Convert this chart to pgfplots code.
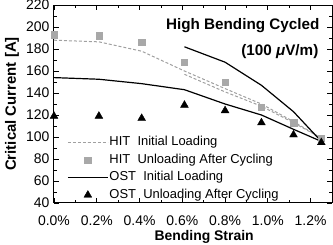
\documentclass[border=0pt]{standalone}
\usepackage{pgfplots}
\pgfplotsset{compat=1.18}
\usepackage{fontspec}
\setmainfont{Liberation Sans}
\definecolor{hitgray}{RGB}{160,160,160}
\definecolor{sqgray}{RGB}{168,168,168}
\begin{document}
\begin{tikzpicture}
\useasboundingbox (0,0) rectangle (333bp,245bp);
\begin{axis}[
  at={(54bp,42bp)}, anchor=south west,
  width=278bp, height=198bp, scale only axis,
  xmin=0, xmax=1.3, ymin=40, ymax=220,
  axis line style={line width=1bp},
  tick align=inside,
  major tick length=5bp, minor tick length=3bp,
  every tick/.style={black, line width=0.8bp},
  xtick={0,0.2,0.4,0.6,0.8,1.0,1.2},
  xticklabels={0.0\%,0.2\%,0.4\%,0.6\%,0.8\%,1.0\%,1.2\%},
  minor xtick={0.1,0.3,0.5,0.7,0.9,1.1},
  ytick={40,60,80,100,120,140,160,180,200,220},
  minor ytick={50,70,90,110,130,150,170,190,210},
  /pgf/number format/assume math mode=true,
  ticklabel style={font=\fontsize{14}{16}\selectfont},
  xticklabel style={inner sep=0.5bp, yshift=-12.5bp, text depth=0.5bp},
  yticklabel style={xshift=-1bp},
  xlabel={Bending Strain},
  ylabel={Critical Current [A]},
  xlabel style={font=\bfseries\fontsize{14}{16}\selectfont, inner sep=0pt, at={(axis description cs:0.54,-0.173)}, anchor=center},
  ylabel style={font=\bfseries\fontsize{15}{17}\selectfont, at={(axis description cs:-0.151,0.5)}, anchor=center, rotate=0},
  legend style={draw=none, fill=none, at={(rel axis cs:0.047,0.343)}, anchor=north west,
    inner sep=0pt, row sep=3bp, font=\fontsize{13}{15}\selectfont,
    nodes={inner sep=1bp, text height=9.5bp, text depth=3bp},
    /tikz/every even column/.append style={column sep=0bp}},
  legend cell align=left,
  legend image code/.code={\draw[mark repeat=2,mark phase=2,#1] plot coordinates {(0bp,0bp) (20bp,0bp) (40bp,0bp)};},
]
% HIT initial loading (dashed gray)
\addplot[hitgray, line width=1bp, dash pattern=on 3bp off 2bp] coordinates {
  (0,188) (0.21,186.5) (0.41,178) (0.61,160) (0.80,144) (0.97,130) (1.12,114) (1.25,99)};
\addlegendentry{HIT~~Initial Loading}
% HIT unloading after cycling (gray squares)
\addplot[only marks, mark=square*, mark size=3.2bp, sqgray, mark options={draw=sqgray, fill=sqgray}] coordinates {
  (0,193) (0.21,192) (0.41,186) (0.61,168) (0.80,150) (0.97,127) (1.12,113) (1.25,99)};
\addlegendentry{HIT~~Unloading After Cycling}
% OST initial loading (black solid)
\addplot[black, line width=1.2bp] coordinates {
  (0,154) (0.21,152.5) (0.41,148.5) (0.61,143) (0.80,130) (0.97,120) (1.12,107) (1.25,96)};
\addlegendentry{OST~~Initial Loading}
% OST unloading after cycling (black triangles)
\addplot[only marks, mark=triangle*, mark size=4.5bp, black] coordinates {
  (0,119) (0.21,119) (0.41,117) (0.61,129) (0.80,124) (0.97,113) (1.12,102) (1.25,95)};
\addlegendentry{OST~~Unloading After Cycling}
% second HIT initial loading curve
\addplot[hitgray, line width=1bp, dash pattern=on 3bp off 2bp, forget plot] coordinates {
  (0.61,157) (0.80,141) (0.97,128) (1.12,113) (1.25,99)};
% second OST initial loading curve
\addplot[black, line width=1.2bp, forget plot] coordinates {
  (0.61,182) (0.80,168) (0.97,147) (1.12,123) (1.25,96)};
\node[anchor=base east, font=\bfseries\fontsize{15.3}{17}\selectfont, inner sep=0pt] at (axis cs:1.242,197.3) {High Bending Cycled};
\node[anchor=base east, font=\bfseries\fontsize{15.3}{17}\selectfont, inner sep=0pt] at (axis cs:1.237,174.5) {(100 \textit{μ}V/m)};
\end{axis}
\end{tikzpicture}
\end{document}
